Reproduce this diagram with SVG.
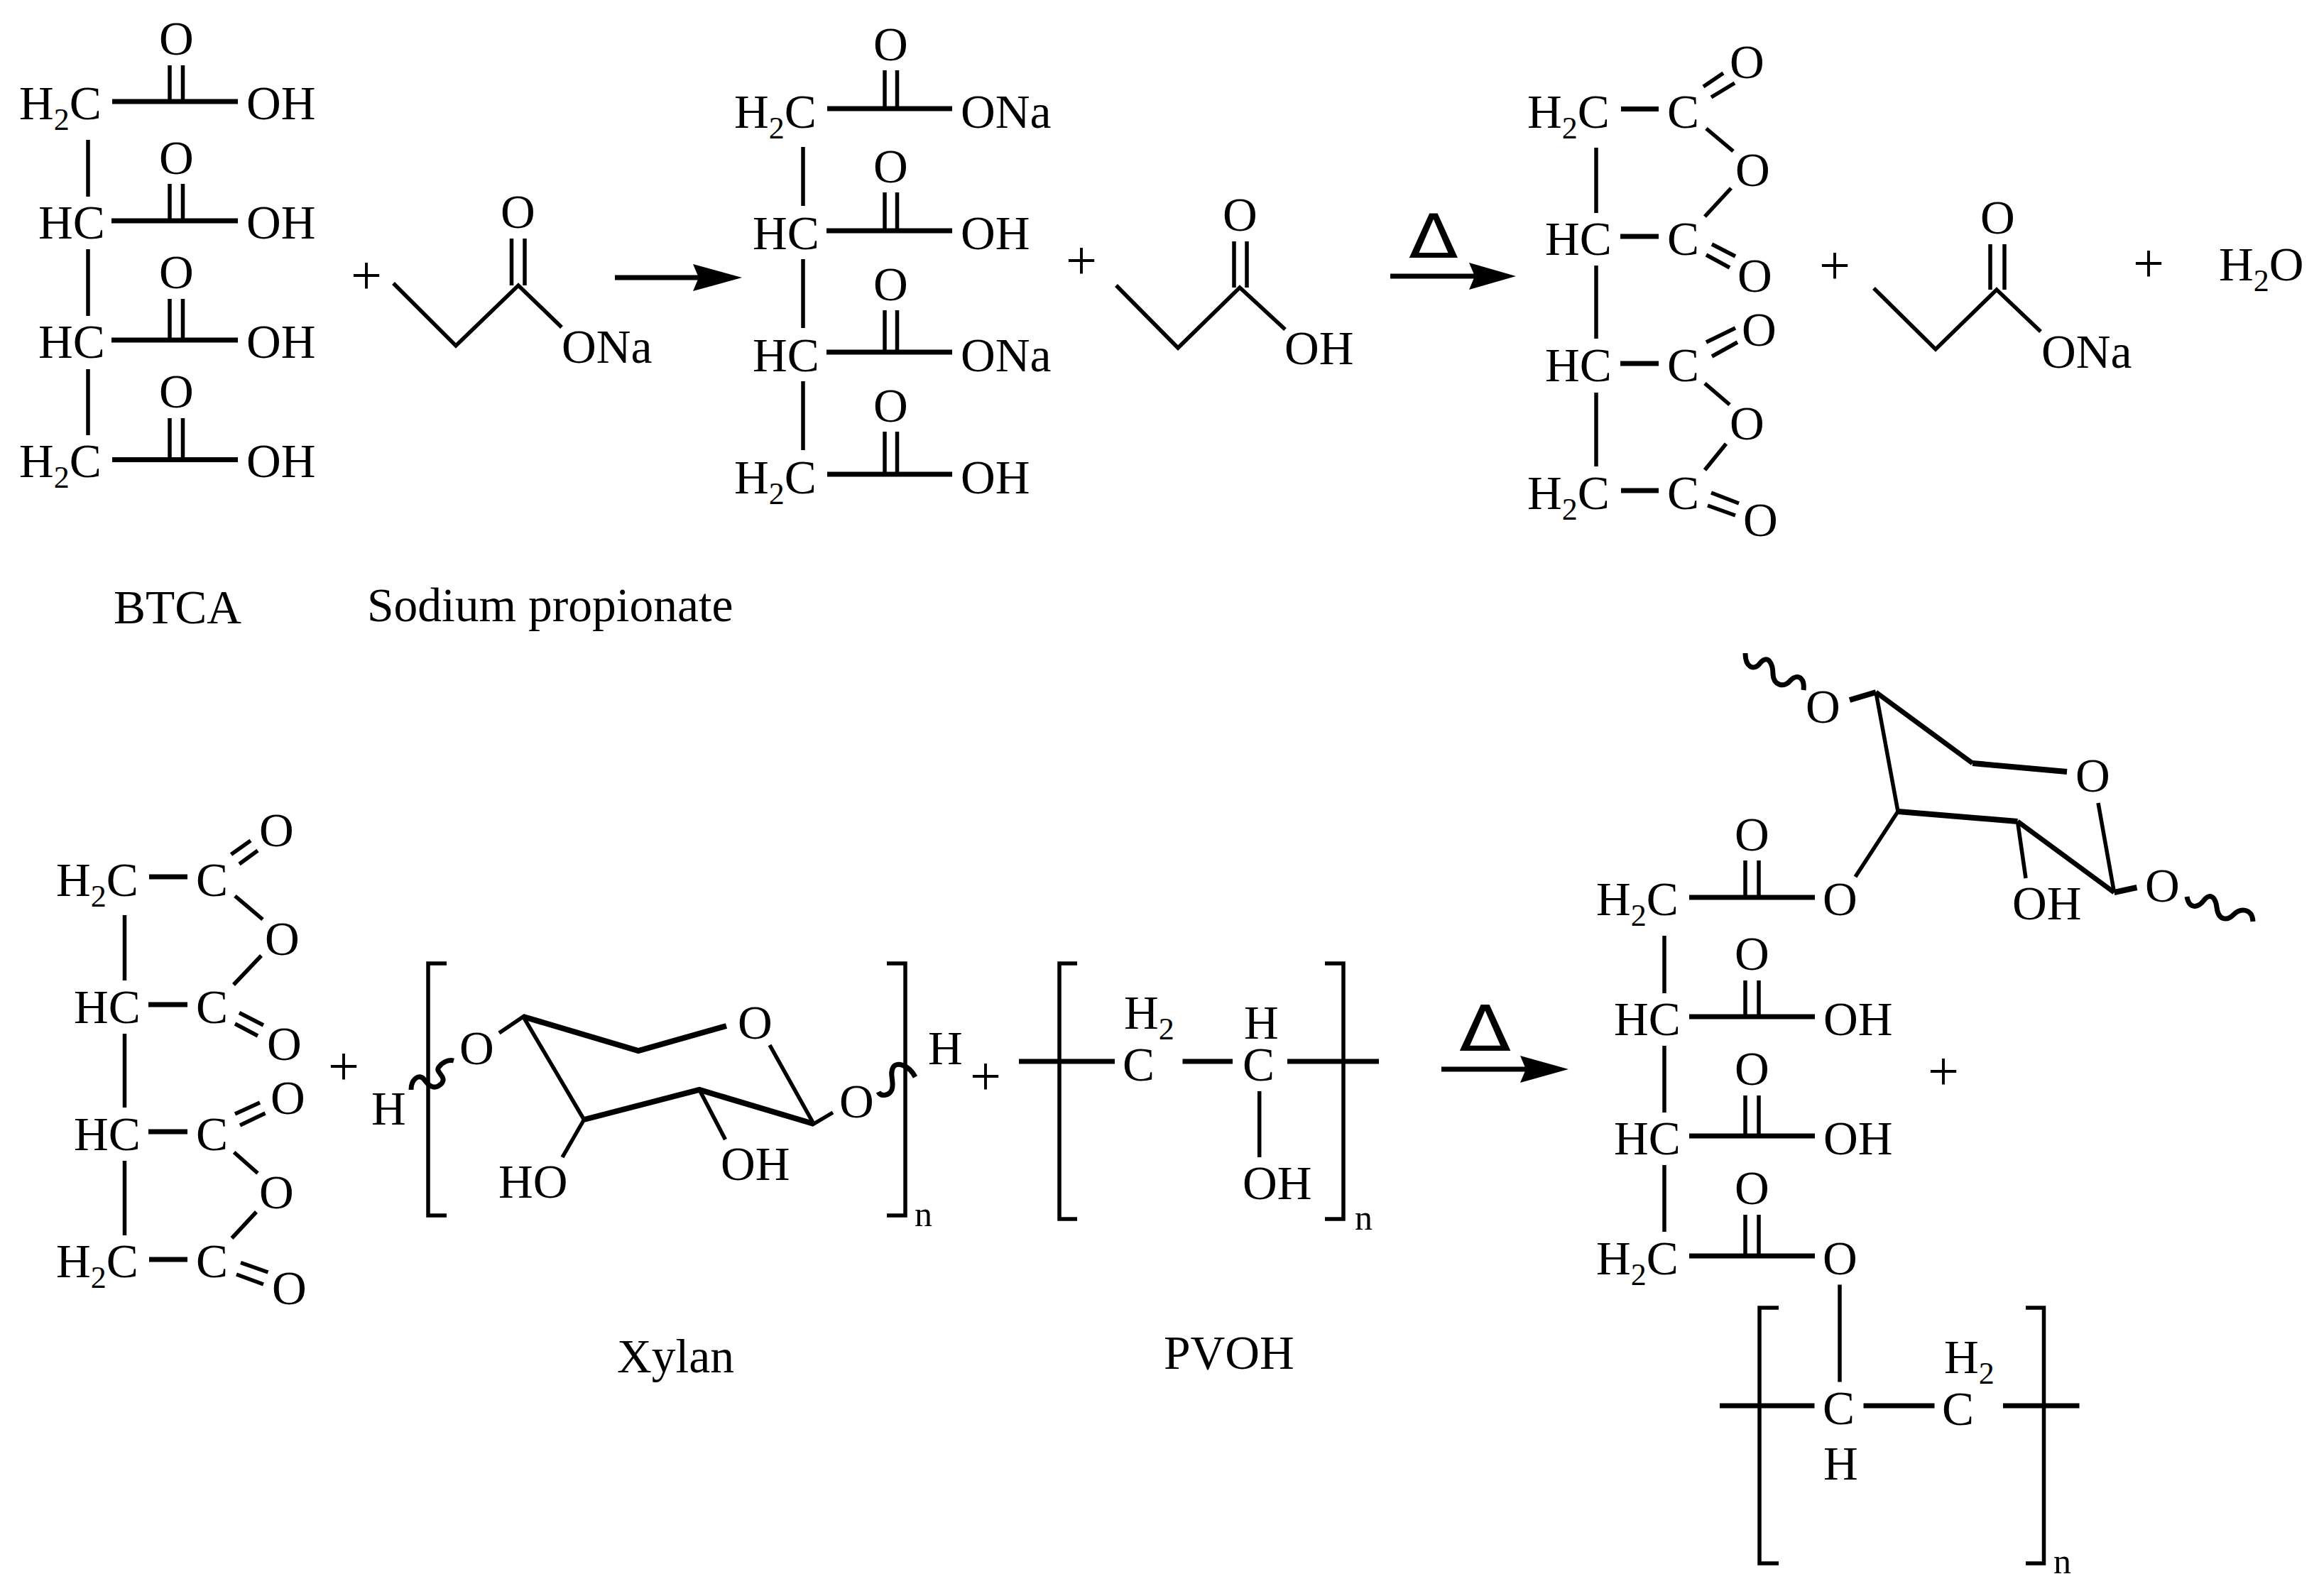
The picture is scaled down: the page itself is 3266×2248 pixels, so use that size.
<svg xmlns="http://www.w3.org/2000/svg" width="3266" height="2248" viewBox="0 0 3266 2248">
<style>
text{font-family:"Liberation Serif","Times New Roman",serif;font-size:67.500px;fill:#000}
.s{font-size:44px}
.p{font-size:78px}
.n{font-size:50px}
.d{font-family:"DejaVu Sans",sans-serif;font-size:85px}
line,polyline,path{fill:none;stroke:#000;stroke-width:5.500}
.h{stroke-width:7}
.k{stroke-width:8}
.v{stroke-width:7}
.a{fill:#000;stroke:none}
</style>
<rect width="3266" height="2248" fill="#fff"/>

<g id="btca">
<text x="27" y="168">H<tspan class="s" dy="15">2</tspan><tspan dy="-15">C</tspan></text>
<text x="54" y="336">HC</text><text x="54" y="504">HC</text>
<text x="27" y="672">H<tspan class="s" dy="15">2</tspan><tspan dy="-15">C</tspan></text>
<text x="347" y="168">OH</text><text x="347" y="336">OH</text><text x="347" y="504">OH</text><text x="347" y="672">OH</text>
<text x="224" y="77">O</text><text x="224" y="245">O</text><text x="224" y="406">O</text><text x="224" y="574">O</text>
<line class="h" x1="158" y1="143" x2="335" y2="143"/><line class="h" x1="157" y1="311" x2="335" y2="311"/><line class="h" x1="157" y1="479" x2="335" y2="479"/><line class="h" x1="158" y1="647.500" x2="335" y2="647.500"/>
<path d="M239,92V143M257.500,92V143M239,259V311M257.500,259V311M239,421V479M257.500,421V479M239,589V647M257.500,589V647"/>
<path d="M124,197V277M124,351V445M124,520V613"/>
<text x="160" y="878">BTCA</text>
</g>

<g id="sodium-propionate">
<text class="p" x="494" y="414">+</text>
<polyline points="554,399 642,487 730,402 791,461"/>
<path d="M720.500,336V402M739,336V402"/>
<text x="705" y="321">O</text>
<text x="791" y="511">ONa</text>
<text x="517" y="875">Sodium propionate</text>
</g>

<g id="btca-salt">
<text x="1034" y="180">H<tspan class="s" dy="15">2</tspan><tspan dy="-15">C</tspan></text>
<text x="1060" y="351">HC</text><text x="1060" y="523">HC</text>
<text x="1034" y="695">H<tspan class="s" dy="15">2</tspan><tspan dy="-15">C</tspan></text>
<text x="1353" y="180">ONa</text><text x="1353" y="351">OH</text><text x="1353" y="523">ONa</text><text x="1353" y="695">OH</text>
<text x="1230" y="85">O</text><text x="1230" y="257">O</text><text x="1230" y="423">O</text><text x="1230" y="594">O</text>
<line class="h" x1="1165" y1="153" x2="1341" y2="153"/><line class="h" x1="1164" y1="325" x2="1341" y2="325"/><line class="h" x1="1164" y1="496" x2="1341" y2="496"/><line class="h" x1="1165" y1="668" x2="1341" y2="668"/>
<path d="M1246,99V153M1263.500,99V153M1246,271V325M1263.500,271V325M1246,437V496M1263.500,437V496M1246,608V668M1263.500,608V668"/>
<path d="M1131,207V290M1131,365V462M1131,537V634"/>
</g>

<g id="propionic-acid">
<text class="p" x="1501" y="393">+</text>
<polyline points="1572,402 1659,490 1746,405 1810,464"/>
<path d="M1738,340V405M1756,340V405"/>
<text x="1722" y="325">O</text>
<text x="1809" y="513">OH</text>
</g>

<g id="btca-anhydride">
<text x="2151" y="180">H<tspan class="s" dy="15">2</tspan><tspan dy="-15">C</tspan></text>
<text x="2176" y="359">HC</text><text x="2176" y="537">HC</text>
<text x="2151" y="717">H<tspan class="s" dy="15">2</tspan><tspan dy="-15">C</tspan></text>
<text x="2348" y="180">C</text><text x="2348" y="359">C</text><text x="2348" y="537">C</text><text x="2348" y="717">C</text>
<path class="h" d="M2283,153.500H2336M2282,333H2336M2282,512H2336M2283,691H2336"/>
<path d="M2248,208V300M2248,374V477M2248,553V657"/>
<text x="2436" y="110">O</text><text x="2444" y="262">O</text><text x="2447" y="411">O</text><text x="2453" y="487">O</text><text x="2436" y="619">O</text><text x="2455" y="755">O</text>
<path d="M2399,122L2427,103M2410,137L2443,117M2403,181L2441,213M2438,265L2401,305M2411,344L2444,361M2403,359L2436,377M2403,482L2444,462M2411,502L2447,482M2401,540L2436,570M2431,625L2401,662M2410,694L2449,709M2405,712L2444,726"/>
</g>

<g id="sodium-propionate-2">
<text class="p" x="2562" y="400">+</text>
<polyline points="2639,406 2726,492 2812,408 2874,467"/>
<path d="M2803,344V408M2823,344V408"/>
<text x="2789" y="329">O</text>
<text x="2875" y="518">ONa</text>
</g>

<g id="water">
<text class="p" x="3004" y="397">+</text>
<text x="3125" y="395">H<tspan class="s" dy="15">2</tspan><tspan dy="-15">O</tspan></text>
</g>

<g id="anhydride-reactant">
<text x="79" y="1262">H<tspan class="s" dy="15">2</tspan><tspan dy="-15">C</tspan></text>
<text x="104" y="1441">HC</text><text x="104" y="1620">HC</text>
<text x="79" y="1799">H<tspan class="s" dy="15">2</tspan><tspan dy="-15">C</tspan></text>
<text x="276" y="1262">C</text><text x="276" y="1441">C</text><text x="276" y="1620">C</text><text x="276" y="1799">C</text>
<path class="h" d="M210,1235H264M209,1415H264M209,1594H264M210,1774H264"/>
<path d="M175.500,1289V1381M175.500,1456V1560M175.500,1635V1740"/>
<text x="365" y="1192">O</text><text x="373" y="1345">O</text><text x="376" y="1493">O</text><text x="381" y="1569">O</text><text x="365" y="1702">O</text><text x="383" y="1837">O</text>
<path d="M325.500,1203.600L353,1184M337,1217L363,1198M331,1262L370,1295M368,1346L329,1387M337,1426.500L371,1444M331,1442L363,1459M331,1569L366,1553M338,1585L373.500,1568M329.600,1623L363,1652.500M361,1707L326.500,1744M339,1778.500L377.500,1792M333,1795L371,1809"/>
<text class="p" x="462" y="1528">+</text>
</g>

<g id="xylan">
<text x="523" y="1584">H</text>
<path class="v" d="M579,1535C579,1520 590,1512 597,1520C604,1530 612,1536 622,1526C630,1516 612,1510 618,1503C623,1496 632,1492 639,1494"/>
<polyline points="629,1357 603,1357 603,1712 629,1712"/>
<polyline points="1249,1357 1275,1357 1275,1712 1249,1712"/>
<text x="647" y="1499">O</text>
<text x="1039" y="1463">O</text>
<text x="1182" y="1574">O</text>
<path d="M703,1455L737,1432L822.500,1577"/>
<path class="k" d="M737,1432L899,1480L1023,1445M1146,1583L985,1535L822.500,1577"/>
<path d="M1084,1472L1146,1583L1173,1567M822.500,1577L792,1630M985,1535L1021.500,1605"/>
<path class="v" d="M1237,1538C1240,1545 1252,1544 1256,1535C1260,1525 1252,1512 1258,1503C1263,1495 1280,1500 1289,1517"/>
<text x="702" y="1687">HO</text>
<text x="1015" y="1662">OH</text>
<text x="1307" y="1499">H</text>
<text class="n" x="1288" y="1727">n</text>
<text x="869" y="1933">Xylan</text>
</g>

<g id="pvoh">
<text class="p" x="1366" y="1542">+</text>
<polyline points="1517,1357 1492,1357 1492,1717 1517,1717"/>
<polyline points="1866,1357 1892,1357 1892,1717 1866,1717"/>
<path class="h" d="M1435,1495H1570M1665.500,1495H1736M1813,1495H1942"/>
<text x="1581" y="1522">C</text><text x="1750" y="1522">C</text>
<text x="1583" y="1449">H<tspan class="s" dy="15">2</tspan></text>
<text x="1752" y="1463">H</text>
<path d="M1773.700,1537V1630"/>
<text x="1750" y="1689">OH</text>
<text class="n" x="1908" y="1732">n</text>
<text x="1639" y="1928">PVOH</text>
</g>

<g id="product">
<text x="2248" y="1289">H<tspan class="s" dy="15">2</tspan><tspan dy="-15">C</tspan></text>
<text x="2273" y="1458">HC</text><text x="2273" y="1626">HC</text>
<text x="2248" y="1795">H<tspan class="s" dy="15">2</tspan><tspan dy="-15">C</tspan></text>
<text x="2567" y="1289">O</text><text x="2568" y="1458">OH</text><text x="2568" y="1626">OH</text><text x="2567" y="1795">O</text>
<text x="2443" y="1198">O</text><text x="2443" y="1366">O</text><text x="2443" y="1528">O</text><text x="2443" y="1696">O</text>
<path class="h" d="M2379,1264H2556M2379,1432H2556M2379,1600H2556M2379,1769H2556"/>
<path d="M2458,1212V1264M2477,1212V1264M2458,1381V1432M2477,1381V1432M2458,1543V1600M2477,1543V1600M2458,1711V1769M2477,1711V1769"/>
<path d="M2344,1318V1399M2344,1473V1567M2344,1641V1735"/>
<text x="2543" y="1018">O</text>
<text x="2923" y="1115">O</text>
<text x="3021" y="1270">O</text>
<text x="2834" y="1295">OH</text>
<path class="k" d="M2605,986L2642,975M2778,1075L2911,1087M2673,1143L2841.500,1157M2977.500,1257L3009.500,1250"/>
<path class="v" d="M2642,975L2778,1075M2841.500,1157L2977.500,1257"/>
<path d="M2642,975L2673,1143L2613,1235M2955,1131L2977.500,1257M2841.500,1157L2853,1237"/>
<path class="v" d="M2458,920C2458,940 2470,945 2478,935C2490,920 2497,935 2497,950C2498,965 2512,970 2522,958C2532,948 2542,955 2540,972"/>
<path class="v" d="M3080,1263C3083,1280 3095,1280 3104,1268C3112,1258 3120,1262 3122,1278C3124,1296 3136,1298 3146,1288C3156,1278 3172,1280 3173,1298"/>
<path d="M2591,1809.500V1946.500"/>
<polyline points="2505,1842 2478,1842 2478,2202 2505,2202"/>
<polyline points="2853,1842 2878.500,1842 2878.500,2202 2853,2202"/>
<path class="h" d="M2422,1980H2555.500M2624.500,1980H2724.500M2821,1980H2928.500"/>
<text x="2567" y="2006">C</text><text x="2735" y="2007">C</text>
<text x="2738" y="1934">H<tspan class="s" dy="15">2</tspan></text>
<text x="2568" y="2084">H</text>
<text class="n" x="2892" y="2216">n</text>
<text class="p" x="2715" y="1535">+</text>
</g>

<g id="connectors">
<line class="h" x1="866" y1="391" x2="990" y2="391"/>
<polygon class="a" points="1045,391 976,372 984,391 976,410"/>
<line class="h" x1="1958" y1="389" x2="2082" y2="389"/>
<polygon class="a" points="2135,389 2069,370 2077,389 2069,408"/>
<line class="h" x1="2030" y1="1506" x2="2152" y2="1506"/>
<polygon class="a" points="2209,1506 2141,1487 2149,1506 2141,1525"/>
<text class="d" transform="translate(1984,363) scale(1.2,1)">Δ</text>
<text class="d" transform="translate(2055,1480) scale(1.26,1.05)">Δ</text>
</g>
</svg>
